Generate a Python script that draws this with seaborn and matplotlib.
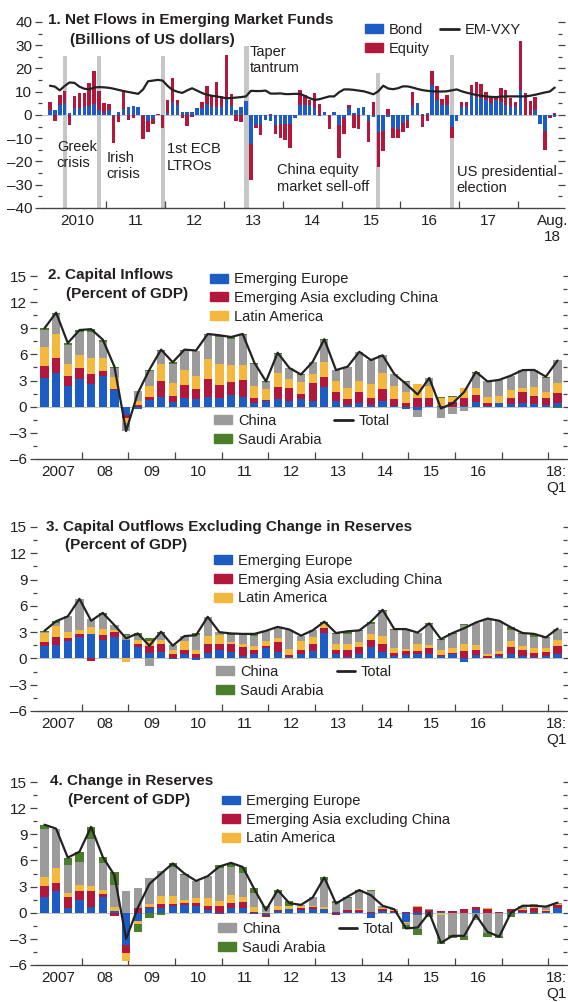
import numpy as np
import matplotlib
matplotlib.use("Agg")
import matplotlib.pyplot as plt
import matplotlib.ticker as mticker
from matplotlib.patches import Patch
from matplotlib.lines import Line2D
import seaborn as sns

# --- panel 1: monthly net flows, Jan 2010 - Aug 2018 (billions of US dollars) ---
bond = [2.0, 2.0, 4.5, 5.0, 1.0, 3.2, 3.2, 3.3, 3.9, 4.6, 2.2, 0.7,
        2.2, -0.3, 1.2, 2.5, 3.5, 4.0, 3.5, -0.5, -2.6, -1.8, 0.0, -0.5,
        0.8, 5.5, 4.3, 1.5, 1.3, 1.2, 3.0, 3.2, 4.8, 3.5, 3.5, 3.5,
        7.5, 4.0, 2.0, 3.5, 6.0, -12.5, -4.5, -4.0, -2.3, -2.5, -4.5, -4.0,
        -4.0, -3.8, -1.4, 4.3, 4.3, 4.3, 2.9, -0.3, 1.4, 0.0, 1.4, -4.5,
        -1.5, 2.9, 0.8, 3.2, 3.3, -2.5, -0.7, -7.2, -7.0, -1.0, -5.8, -6.0,
        -3.6, -2.0, 3.9, 5.3, 0.3, 0.8, 13.0, 6.5, 4.3, 4.3, -5.0, -2.5,
        3.6, 3.6, 8.7, 7.9, 7.2, 6.5, 5.0, 6.5, 5.8, 4.3, 3.3, 3.3,
        10.8, 0.0, 0.0, 2.2, -4.0, -7.0, -0.5, -1.0]
equity = [3.8, -2.6, 4.2, 5.5, -4.3, 4.8, 6.2, 6.0, 9.8, 14.4, 8.2, 4.6,
          2.6, -11.8, -3.0, 8.3, -2.0, -1.5, 0.0, -10.0, -4.6, -2.0, 0.3, -5.3,
          5.7, 10.3, 2.2, -1.5, -4.8, -1.0, 0.0, 2.5, 7.7, 5.0, 10.5, 4.5,
          18.5, 5.0, -2.5, -3.0, 0.0, -15.5, -1.0, -4.5, 0.0, 0.5, -3.5, -6.0,
          -6.8, -10.6, 0.0, 6.5, 4.4, 2.2, 6.5, 4.8, 0.0, -6.2, 0.0, -13.8,
          -6.5, 1.2, -5.5, -6.0, 0.3, -9.0, 5.8, -15.2, -8.4, 2.5, -4.2, -4.0,
          -3.9, -3.5, 5.8, 0.0, -5.1, -2.5, 5.8, 6.0, 2.5, 4.4, -4.7, 0.0,
          2.2, 2.2, 4.3, 6.5, 6.1, 3.6, 3.2, 1.0, 5.7, 6.5, 4.2, 2.5,
          20.9, 9.4, 6.0, 5.4, 0.0, -8.2, -1.0, 1.0]
em_vxy = [12.6, 12.2, 10.6, 12.5, 14.0, 13.8, 12.2, 11.3, 11.0, 11.8, 12.0, 11.9,
          11.7, 11.3, 10.8, 10.3, 9.9, 9.5, 9.1, 11.0, 14.5, 14.8, 15.1, 14.8,
          12.5, 10.8, 10.0, 9.5, 10.6, 11.5, 10.5, 9.5, 8.7, 8.3, 8.0, 7.6,
          7.2, 7.3, 7.5, 7.7, 8.0, 10.4, 10.3, 10.3, 10.5, 9.2, 9.2, 9.3,
          9.0, 9.0, 9.1, 9.1, 8.2, 7.2, 6.5, 6.8, 7.4, 8.0, 8.0, 9.8,
          11.0, 11.0, 10.8, 10.5, 10.2, 9.6, 8.9, 10.2, 12.6, 11.4, 11.1, 11.5,
          12.3, 12.3, 11.8, 11.2, 10.7, 10.4, 10.2, 10.1, 10.1, 10.2, 10.6, 11.0,
          10.2, 9.6, 9.1, 8.6, 8.3, 8.0, 7.8, 7.7, 7.9, 8.0, 8.0, 8.0,
          8.0, 8.0, 8.3, 8.7, 9.2, 9.7, 10.1, 11.8]
flow_labels = ["2010", "11", "12", "13", "14", "15", "16", "17", "Aug.\n18"]
event_month = [3.06, 10.0, 23.1, 40.1, 67.0, 82.0]
event_top = [25.2, 25.2, 25.2, 29.6, 18.0, 26.0]
event_text = ["Greek\ncrisis", "Irish\ncrisis", "1st ECB\nLTROs", "Taper\ntantrum",
              "China equity\nmarket sell-off", "US presidential\nelection"]

# --- panels 2-4: quarterly, 2007:Q1 - 2018:Q1 (percent of GDP) ---
quarter_labels = ["2007", "08", "09", "10", "11", "12", "13", "14", "15", "16", "18:\nQ1"]
series_names = ["Emerging Europe", "Emerging Asia excluding China", "Latin America",
                "China", "Saudi Arabia"]

eu_in = [3.35, 3.9, 2.4, 3.2, 2.55, 3.55, 1.9, -1.0, -0.3, 0.75, 1.15, 0.5, 1.05, 0.9, 1.15,
         1.0, 1.4, 1.15, 0.4, 0.65, 0.9, 0.6, 0.85, 0.7, 2.3, 0.7, 0.2, 0.4, 0.2, 0.65,
         0.1, -0.27, -0.4, 0.1, 0.05, 0.0, 0.05, 0.55, 0.1, 0.38, 0.27, 0.45, 0.27, 0.2, 0.45]
asia_in = [1.3, 1.7, 1.1, 1.2, 1.2, 0.5, 0.1, -0.3, 0.15, 0.4, 1.85, 0.75, 1.4, 1.1, 2.0,
           1.5, 1.45, 1.9, 0.55, 0.1, 1.4, 1.6, 0.65, 2.0, 1.1, 1.0, 0.7, 1.25, 0.75, 1.35,
           0.8, 0.45, 0.95, 0.9, 0.0, 0.55, 0.9, 0.8, 0.35, 0.1, 0.7, 1.2, 1.0, 0.85, 1.15]
latam_in = [2.2, 2.7, 1.4, 1.5, 1.8, 1.5, 1.4, -0.6, 0.55, 1.2, 1.85, 1.5, 1.8, 1.5, 2.3,
            2.4, 1.9, 1.7, 1.4, 1.25, 1.6, 1.0, 1.3, 1.1, 1.7, 1.2, 1.2, 1.35, 1.6, 1.9,
            1.5, 1.25, 1.6, 1.4, 1.0, 0.6, 1.15, 0.85, 0.7, 0.8, 0.95, 0.45, 0.95, 0.65, 1.15]
china_in = [2.0, 2.3, 2.2, 2.7, 3.0, 1.9, 1.0, -0.9, 1.1, 1.75, 1.5, 2.2, 2.15, 2.85, 2.75,
            3.1, 3.05, 3.45, 2.6, 0.85, 2.1, 1.2, 0.8, 1.35, 2.55, 1.3, 2.5, 3.3, 2.8, 2.0,
            1.35, 1.15, -0.75, 0.9, -1.3, -0.8, -0.45, 1.7, 1.75, 1.8, 1.65, 2.1, 2.0, 1.6, 2.65]
saudi_in = [0.15, 0.2, 0.2, 0.2, 0.35, 0.25, 0.2, 0.0, 0.05, 0.15, 0.2, 0.15, 0.15, 0.1, 0.15,
            0.2, 0.2, 0.15, 0.1, 0.05, 0.2, 0.05, 0.1, 0.0, 0.1, 0.0, 0.0, 0.0, 0.0, 0.0,
            0.0, 0.05, 0.0, 0.0, 0.05, 0.03, 0.05, 0.1, 0.0, 0.0, 0.0, 0.0, 0.0, 0.15, -0.1]

eu_out = [1.45, 1.5, 2.0, 2.4, 2.75, 2.1, 2.5, 2.15, 1.25, 0.6, 0.7, -0.1, 0.5, -0.2, 0.65,
          1.0, 0.7, 0.3, 0.5, 1.2, 0.75, 0.2, 0.5, 0.85, 2.9, 0.5, 0.2, 0.5, 1.25, 0.75,
          0.3, 0.4, 0.45, 0.5, 0.25, 0.5, -0.45, 0.4, 0.05, 0.3, 0.55, 0.3, 0.2, 0.25, 0.55]
asia_out = [0.45, 0.95, 0.3, 0.4, -0.25, 0.55, 0.5, 0.0, 0.35, 0.8, 0.9, 0.45, 0.5, 0.5, 0.95,
            0.6, 0.9, 0.95, 0.45, 0.2, 1.15, 0.2, 0.5, 0.85, 0.6, 0.5, 0.8, 0.85, 0.9, 0.95,
            0.3, 0.45, 0.4, 0.65, 0.15, 0.1, 0.85, 0.55, 0.25, 0.25, 0.8, 0.7, 0.45, 0.5, 0.85]
latam_out = [1.0, 1.25, 0.75, 0.5, 0.85, 0.75, 0.3, -0.45, 0.55, 0.6, 0.5, 0.55, 1.0, 0.45, 0.95,
             1.05, 0.3, 0.45, 0.45, 0.6, 0.45, 0.7, 1.0, 0.7, 0.4, 0.7, 0.65, 0.55, 0.65, 0.9,
             0.6, 0.2, 0.75, 0.35, 0.6, 0.55, 0.85, 0.55, 0.25, 0.3, 0.65, 0.4, 0.55, 0.45, 0.7]
china_out = [0.1, 0.3, 1.75, 3.5, 0.95, 1.5, 0.5, 0.55, 0.4, -0.9, 0.8, 0.5, 0.55, 1.7, 2.2,
             0.35, 0.75, 1.1, 1.15, 1.15, 1.25, 2.2, 0.6, 0.8, 0.2, 1.1, 1.15, 1.25, 1.1, 2.8,
             2.0, 2.15, 1.25, 2.4, 1.1, 1.65, 2.1, 2.5, 4.0, 3.45, 1.2, 1.4, 1.25, 1.1, 1.25]
saudi_out = [0.15, 0.25, 0.0, 0.0, 0.0, 0.3, 0.0, 0.05, 0.3, 0.35, 0.15, 0.05, 0.0, 0.2, 0.0,
             0.0, 0.2, 0.0, 0.25, 0.0, 0.0, 0.0, 0.0, 0.0, 0.1, 0.1, 0.3, 0.05, 0.3, 0.15,
             0.15, 0.15, 0.1, 0.1, 0.1, 0.1, 0.1, 0.1, 0.0, 0.0, 0.35, 0.1, 0.35, 0.1, 0.05]

eu_res = [1.75, 2.5, 0.57, 1.45, 0.7, 1.85, 0.2, -3.7, -1.0, 0.5, 0.5, 0.8, 0.9, 0.8, 0.3,
          -0.15, 0.57, 0.5, -0.15, -0.25, 0.2, 0.4, 0.3, 0.4, 0.4, 0.05, 0.05, 0.05, -0.6, 0.25,
          0.1, -1.05, -0.25, -0.1, 0.1, 0.0, 0.0, 0.3, 0.0, 0.0, 0.05, 0.1, 0.05, 0.05, 0.5]
asia_res = [1.3, 0.95, 1.2, 1.05, 1.8, 0.25, -0.35, -0.95, 0.5, 0.2, 0.55, 0.25, 0.25, 0.35, 0.5,
            0.75, 0.55, 0.75, 0.05, -0.2, 0.1, 0.05, 0.2, 0.2, 0.05, -0.3, 0.25, 0.3, 0.05, 0.15,
            0.1, 0.1, 0.7, 0.35, 0.05, 0.2, 0.4, 0.3, 0.4, 0.05, 0.35, 0.25, 0.5, 0.2, 0.4]
latam_res = [1.0, 1.7, 0.45, 0.65, 0.55, 0.5, 0.4, -0.85, -0.25, 0.25, 0.85, 0.85, 0.35, 0.55, 0.85,
             0.6, 0.95, 0.55, 0.55, 0.1, 0.5, 0.3, 0.25, 0.15, 0.25, 0.05, 0.05, 0.05, 0.05, 0.1,
             0.15, -0.1, 0.1, -0.05, -0.3, 0.0, 0.05, 0.0, 0.15, 0.05, 0.0, 0.05, 0.05, 0.1, 0.15]
china_res = [5.6, 4.5, 3.25, 2.7, 5.4, 3.05, 2.6, 2.45, 2.3, 3.0, 2.85, 3.35, 2.8, 1.95, 2.55,
             3.75, 3.15, 2.8, 1.7, 0.55, 1.5, -0.2, 0.15, 1.0, 3.05, 1.05, 1.3, 2.0, 2.35, 0.25,
             0.05, -0.3, -1.6, 0.1, -3.0, -2.5, -2.7, -0.8, -2.35, -2.7, 0.05, 0.4, 0.35, 0.4, 0.1]
saudi_res = [0.45, 0.0, 0.85, 1.15, 1.4, 0.75, 1.45, 0.05, -1.0, -0.65, -0.25, 0.4, 0.2, 0.0, 0.0,
             0.35, 0.5, 0.65, 0.55, 0.1, 0.3, 0.55, 0.0, 0.0, 0.3, 0.2, 0.2, 0.2, 0.15, 0.05,
             0.0, -0.45, -0.65, -0.3, -0.3, -0.35, -0.4, -0.07, -0.4, -0.15, -0.45, 0.0, -0.15, -0.05, 0.0]

# --- colours ---
BLUE, RED, YELLOW, GRAY, GREEN = "#1c5cc3", "#b3173b", "#f5b83f", "#9b9b9b", "#4b7e2b"
SERIES_COLORS = [BLUE, RED, YELLOW, GRAY, GREEN]
TEXT = "#231f20"
LINE = "#222222"

sns.set_theme(style="white")
plt.rcParams["font.family"] = ["Liberation Sans", "DejaVu Sans"]


def stacked_bars(ax, x, layers, colors, width):
    # positive parts stack up from 0, negative parts stack down from 0
    pos = np.zeros(len(x))
    neg = np.zeros(len(x))
    for vals, col in zip(layers, colors):
        vals = np.asarray(vals, dtype=float)
        base = np.where(vals >= 0, pos, neg)
        sns.barplot(x=x, y=vals, bottom=base, color=col, width=width, orient="x",
                    native_scale=True, errorbar=None, saturation=1,
                    linewidth=0, edgecolor="none", zorder=2, ax=ax)
        pos += np.clip(vals, 0, None)
        neg += np.clip(vals, None, 0)


def dash_minus(v, _pos):
    return f"{v:g}".replace("-", "\u2013")


def style_axes(ax, xlim, ylim, ymajor, yminor, bounds, lab_pos, labels):
    ax.set_xlim(*xlim)
    ax.set_ylim(*ylim)
    ax.set_xlabel(None)
    ax.set_ylabel(None)
    for side in ("left", "right", "top"):
        ax.spines[side].set_visible(False)
    ax.spines["bottom"].set_color("#444444")
    ax.spines["bottom"].set_linewidth(1.0)
    ax.axhline(0, color="#c2c2c2", lw=0.7, zorder=1)
    ax.yaxis.set_major_locator(mticker.MultipleLocator(ymajor))
    ax.yaxis.set_minor_locator(mticker.MultipleLocator(yminor))
    ax.yaxis.set_major_formatter(mticker.FuncFormatter(dash_minus))
    ax.tick_params(axis="y", which="both", left=True, right=True, labelleft=True,
                   labelright=False, direction="out", color="#444444",
                   labelcolor=TEXT, labelsize=11, pad=2, width=0.9)
    ax.tick_params(axis="y", which="major", length=5)
    ax.tick_params(axis="y", which="minor", length=3)
    ax.set_xticks(bounds)
    ax.set_xticks(lab_pos, labels, minor=True)
    ax.tick_params(axis="x", which="major", bottom=True, direction="in", length=5,
                   width=0.9, color="#444444", labelbottom=False)
    ax.tick_params(axis="x", which="minor", bottom=True, length=0, labelsize=11,
                   labelcolor=TEXT, pad=4)


def titles(ax, main, sub, pos_main, pos_sub):
    ax.text(*pos_main, main, transform=ax.transAxes, ha="left", va="center",
            fontsize=11, fontweight="bold", color=TEXT)
    ax.text(*pos_sub, sub, transform=ax.transAxes, ha="left", va="center",
            fontsize=11, fontweight="bold", color=TEXT)


legend_kw = dict(frameon=False, fontsize=10.5, handlelength=1.25, handleheight=0.55,
                 handletextpad=0.4, labelspacing=0.32, borderaxespad=0, borderpad=0,
                 loc="upper left", labelcolor=TEXT)

fig = plt.figure(figsize=(5.68, 10.02), dpi=100)

# ---------------- panel 1 ----------------
ax1 = fig.add_axes([42 / 568, 1 - 208 / 1002, 516 / 568, 186 / 1002])
months = np.arange(len(bond))
ax1.bar(event_month, np.array(event_top) + 40, bottom=-40, width=0.85,
        color="#c6c6c6", zorder=0.5, linewidth=0)
stacked_bars(ax1, months, [bond, equity], [BLUE, RED], 0.7)
sns.lineplot(x=months, y=em_vxy, color=LINE, linewidth=1.6, estimator=None,
             zorder=3, ax=ax1)
style_axes(ax1, (-1.63, 103.67), (-40, 40), 10, 5,
           [11.5 + 12 * k for k in range(8)],
           [5.5 + 12 * k for k in range(8)] + [102.6], flow_labels)
text_xy = [(1.4, -10.8), (11.6, -15.6), (23.8, -11.8), (40.8, 30.3), (46.3, -20.8), (83.0, -21.4)]
for (tx, ty), txt in zip(text_xy, event_text):
    ax1.text(tx, ty, txt, ha="left", va="top", fontsize=10.5, color=TEXT, linespacing=1.2)
titles(ax1, "1. Net Flows in Emerging Market Funds", "(Billions of US dollars)",
       (0.012, 1.011), (0.054, 0.903))
h1 = [Patch(color=BLUE, label="Bond"), Patch(color=RED, label="Equity"),
      Line2D([], [], color=LINE, lw=2, label="EM-VXY")]
ax1.legend(handles=h1, ncol=2, columnspacing=0.7, bbox_to_anchor=(0.626, 0.995), **legend_kw)

# ---------------- panels 2-4 ----------------
quarters = np.arange(len(eu_in))
panels = [
    ("2. Capital Inflows", [eu_in, asia_in, latam_in, china_in, saudi_in],
     1 - 459 / 1002, 183 / 1002, (0.021, 1.005), (0.055, 0.902), (0.329, 1.02), (0.336, 0.246)),
    ("3. Capital Outflows Excluding Change in Reserves", [eu_out, asia_out, latam_out, china_out, saudi_out],
     1 - 711 / 1002, 184 / 1002, (0.017, 1.0), (0.053, 0.902), (0.336, 0.853), (0.340, 0.25)),
    ("4. Change in Reserves", [eu_res, asia_res, latam_res, china_res, saudi_res],
     1 - 965 / 1002, 183 / 1002, (0.025, 1.005), (0.059, 0.90), (0.352, 0.934), (0.344, 0.235)),
]
for title, layers, bottom, height, pm, ps, top_anchor, bot_anchor in panels:
    ax = fig.add_axes([37 / 568, bottom, 526 / 568, height])
    stacked_bars(ax, quarters, layers, SERIES_COLORS, 0.71)
    total = np.sum(np.asarray(layers, dtype=float), axis=0)
    sns.lineplot(x=quarters, y=total, color=LINE, linewidth=1.6, estimator=None,
                 zorder=3, ax=ax)
    style_axes(ax, (-0.64, 44.47), (-6, 15), 3, 1.5,
               [3.2 + 4 * k for k in range(11)],
               [1.2 + 4 * k for k in range(10)] + [43.9], quarter_labels)
    titles(ax, title, "(Percent of GDP)", pm, ps)
    top_h = [Patch(color=c, label=n) for c, n in zip(SERIES_COLORS[:3], series_names[:3])]
    leg = ax.legend(handles=top_h, bbox_to_anchor=top_anchor, **legend_kw)
    ax.add_artist(leg)
    bot_h = [Patch(color=GRAY, label="China"), Patch(color=GREEN, label="Saudi Arabia"),
             Line2D([], [], color=LINE, lw=2, label="Total")]
    ax.legend(handles=bot_h, ncol=2, columnspacing=0.9, bbox_to_anchor=bot_anchor, **legend_kw)

fig.savefig("out.png", dpi=100)
